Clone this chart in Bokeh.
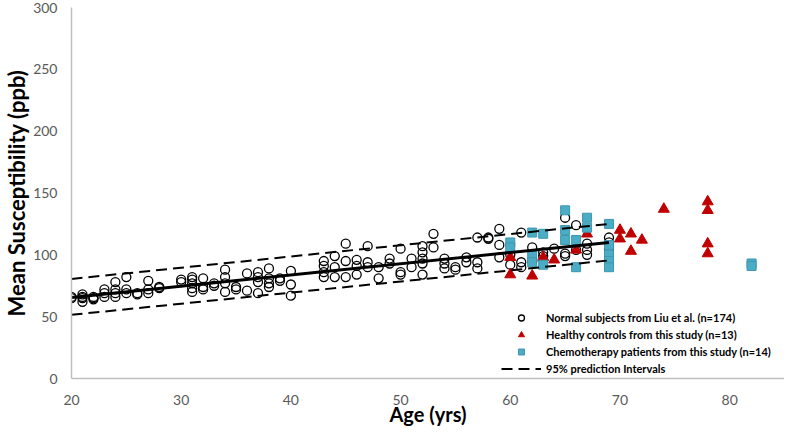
from bokeh.plotting import figure
from bokeh.models import Legend, LegendItem, FixedTicker, Range1d
from bokeh.embed import file_html
from bokeh.resources import INLINE

# Normal subjects from Liu et al.
normal_age = [20, 20, 21, 21, 21, 21, 22, 22, 22, 23, 23, 23, 24, 24, 24, 24,
              25, 25, 25, 26, 26, 27, 27, 27, 28, 28, 30, 30, 31, 31, 31, 31, 31,
              32, 32, 32, 33, 33, 34, 34, 34, 34, 35, 35, 36, 36, 37, 37, 37, 37,
              38, 38, 38, 38, 39, 39, 40, 40, 40, 43, 43, 43, 43, 44, 44, 44,
              45, 45, 45, 46, 46, 46, 47, 47, 47, 48, 48, 49, 49, 50, 50, 50,
              51, 51, 52, 52, 52, 52, 52, 53, 53, 54, 54, 54, 55, 55, 56, 56,
              57, 57, 57, 58, 58, 59, 59, 59, 60, 60, 61, 61, 61, 62, 62, 63, 63,
              64, 65, 65, 65, 66, 66, 67, 67, 67, 69, 69, 69]
normal_qsm = [65, 66, 68, 65, 62, 66, 66, 64, 65, 72, 69, 66, 78, 72, 69, 66,
              82, 72, 69, 69, 68, 79, 72, 69, 73, 74, 80, 78, 82, 80, 77, 73, 70,
              81, 74, 72, 77, 75, 88, 82, 77, 70, 74, 72, 85, 71, 86, 82, 78, 69,
              89, 81, 77, 74, 81, 79, 87, 76, 67, 95, 82, 91, 86, 99, 90, 82,
              109, 95, 82, 96, 91, 84, 107, 94, 90, 90, 81, 97, 93, 105, 86, 84,
              97, 90, 107, 102, 97, 93, 84, 117, 106, 97, 93, 89, 90, 88, 98, 94,
              114, 94, 89, 114, 113, 121, 108, 98, 100, 92, 118, 94, 90, 106, 95, 102, 99,
              105, 130, 101, 99, 124, 104, 109, 104, 100, 114, 110, 105]

# Healthy controls from this study
control_age = [60, 60, 62, 63, 64, 66, 67, 70, 70, 71, 71, 72, 74, 78, 78, 78, 78]
control_qsm = [98, 84, 83, 98, 96, 104, 117, 120, 113, 117, 103, 112, 137, 143, 136, 109, 101]

# Chemotherapy patients from this study
chemo_age = [60, 60, 62, 62, 62, 63, 63, 65, 65, 65, 66, 66, 67, 67, 69, 69, 69, 69, 69, 82, 82]
chemo_qsm = [110, 106, 118, 99, 94, 117, 92, 136, 120, 112, 112, 90, 130, 122, 125, 108, 100, 95, 90, 93, 91]

# Regression line and 95% prediction intervals
fit_age = [20, 69]
fit_qsm = [65.5, 110]
upper_qsm = [80.5, 125]
lower_qsm = [51.5, 95.5]

x_ticks = [20, 30, 40, 50, 60, 70, 80]
y_ticks = [0, 50, 100, 150, 200, 250, 300]

p = figure(width=784, height=428, output_backend="svg", toolbar_location=None,
           x_range=Range1d(20, 85), y_range=Range1d(0, 300),
           min_border_left=10, min_border_right=0, min_border_top=7, min_border_bottom=10)
p.outline_line_color = None
p.xgrid.grid_line_color = None
p.ygrid.grid_line_color = None
p.background_fill_color = "white"
p.border_fill_color = "white"

r_norm = p.scatter(normal_age, normal_qsm, marker="circle", size=9,
                   fill_alpha=0, line_color="black", line_width=1.3)
r_ctrl = p.scatter(control_age, control_qsm, marker="triangle", size=11,
                   fill_color="#C00000", line_color="#C00000")
r_chemo = p.scatter(chemo_age, chemo_qsm, marker="square", size=9,
                    fill_color="#4BACC6", line_color="#3E97AF")
r_fit = p.line(fit_age, fit_qsm, line_color="black", line_width=3)
r_up = p.line(fit_age, upper_qsm, line_color="black", line_width=2, line_dash="11 6")
r_lo = p.line(fit_age, lower_qsm, line_color="black", line_width=2, line_dash="11 6")

for ax in (p.xaxis[0], p.yaxis[0]):
    ax.axis_line_color = "#BFBFBF"
    ax.axis_line_width = 1.5
    ax.major_tick_line_color = None
    ax.minor_tick_line_color = None
    ax.major_tick_out = 0
    ax.major_tick_in = 0
    ax.minor_tick_out = 0
    ax.minor_tick_in = 0
    ax.major_label_text_font = "Lato"
    ax.major_label_text_font_size = "14px"
    ax.major_label_text_color = "#595959"
    ax.axis_label_text_font = "Lato"
    ax.axis_label_text_font_style = "bold"
    ax.axis_label_text_color = "black"

p.xaxis.ticker = FixedTicker(ticks=x_ticks)
p.yaxis.ticker = FixedTicker(ticks=y_ticks)
p.xaxis.axis_label = "Age (yrs)"
p.yaxis.axis_label = "Mean Susceptibility (ppb)"
p.xaxis.axis_label_text_font_size = "20px"
p.yaxis.axis_label_text_font_size = "22px"
p.xaxis.major_label_standoff = 16
p.yaxis.major_label_standoff = 14
p.xaxis.axis_label_standoff = -6
p.yaxis.axis_label_standoff = 0

legend = Legend(items=[
    LegendItem(label="Normal subjects from Liu et al. (n=174)", renderers=[r_norm]),
    LegendItem(label="Healthy controls from this study (n=13)", renderers=[r_ctrl]),
    LegendItem(label="Chemotherapy patients from this study (n=14)", renderers=[r_chemo]),
    LegendItem(label="95% prediction Intervals", renderers=[r_up]),
], location=(430, 2))
legend.border_line_color = None
legend.background_fill_alpha = 0
legend.padding = 0
legend.margin = 0
legend.spacing = 2
legend.glyph_width = 40
legend.glyph_height = 15
legend.label_height = 15
legend.label_standoff = 5
legend.label_text_font = "Lato"
legend.label_text_font_style = "bold"
legend.label_text_font_size = "11px"
legend.label_text_color = "black"
p.add_layout(legend)

open("out.html", "w").write(file_html(p, INLINE))
